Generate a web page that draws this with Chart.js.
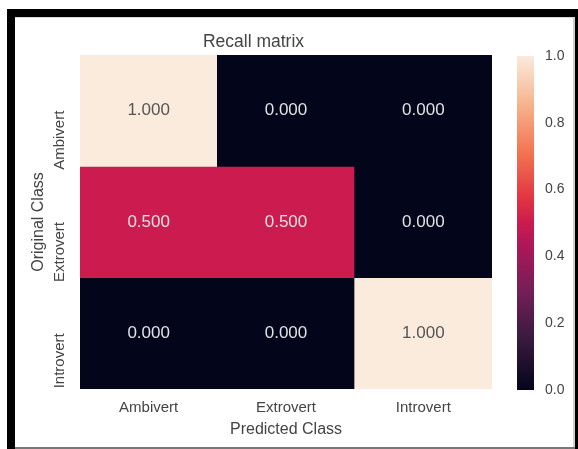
<!DOCTYPE html>
<html>
<head>
<meta charset="utf-8">
<title>Recall matrix</title>
<script src="https://cdn.jsdelivr.net/npm/chart.js@4/dist/chart.umd.min.js"></script>
<style>
    body { margin: 0; background: #fff; }
    #page { position: relative; width: 578px; height: 449px; overflow: hidden; background: #fff; }
    .edge { position: absolute; }
    #heatWrap { position: absolute; left: 0; top: 0; width: 578px; height: 449px; }
    #barWrap { position: absolute; left: 505px; top: 0; width: 73px; height: 449px; }
</style>
</head>
<body>
<div id="page">
    <div class="edge" style="left:7px;top:9px;right:0;height:8px;background:#000"></div>
    <div class="edge" style="left:7px;top:9px;width:8px;bottom:0;background:#000"></div>
    <div class="edge" style="left:15px;top:17px;right:4px;height:1px;background:#d8d8d8"></div>
    <div class="edge" style="left:573px;top:17px;width:2px;bottom:0;background:#d0d0d0"></div>
    <div class="edge" style="left:575px;top:9px;width:3px;bottom:0;background:#000"></div>
    <div class="edge" style="left:15px;top:447px;width:560px;height:2px;background:#777"></div>
    <div id="heatWrap"><canvas id="heatmap" width="578" height="449"></canvas></div>
    <div id="barWrap"><canvas id="colorbar" width="73" height="449"></canvas></div>
</div>

<script>
var classes = ["Ambivert", "Extrovert", "Introvert"];
var recall = [
    [1.0, 0.0, 0.0],
    [0.5, 0.5, 0.0],
    [0.0, 0.0, 1.0]
];
var colorbarTicks = [0.0, 0.2, 0.4, 0.6, 0.8, 1.0];

// seaborn "rocket" palette, sampled
var rocketStops = [
    [0.000, [3, 5, 26]],
    [0.143, [53, 25, 62]],
    [0.286, [112, 31, 87]],
    [0.429, [173, 23, 89]],
    [0.500, [203, 27, 79]],
    [0.571, [225, 51, 66]],
    [0.714, [243, 118, 81]],
    [0.857, [246, 180, 143]],
    [1.000, [250, 235, 221]]
];

var textColor = "#444";

Chart.defaults.font.family = '"Liberation Sans", Arial, sans-serif';

function rocket(v) {
    for (var i = 1; i < rocketStops.length; i++) {
        var a = rocketStops[i - 1], b = rocketStops[i];
        if (v <= b[0]) {
            var t = (v - a[0]) / (b[0] - a[0]);
            var rgb = a[1].map(function (c, k) { return Math.round(c + (b[1][k] - c) * t); });
            return "rgb(" + rgb.join(",") + ")";
        }
    }
    return "rgb(" + rocketStops[rocketStops.length - 1][1].join(",") + ")";
}

// writes the value in the middle of each cell
var cellText = {
    id: "cellText",
    afterDatasetsDraw: function (chart) {
        var ctx = chart.ctx;
        ctx.save();
        ctx.font = '17px "Liberation Sans", Arial, sans-serif';
        ctx.textAlign = "center";
        ctx.textBaseline = "middle";
        chart.data.datasets.forEach(function (ds, r) {
            chart.getDatasetMeta(r).data.forEach(function (bar, c) {
                var v = recall[r][c];
                ctx.fillStyle = v > 0.6 ? "#555" : "#e2e2e2";
                ctx.fillText(v.toFixed(3), bar.x, (bar.y + bar.base) / 2);
            });
        });
        ctx.restore();
    }
};

function initHeatmap() {
    var ctx = document.getElementById("heatmap").getContext("2d");

    // one dataset per row, each cell a floating bar spanning its row
    var datasets = recall.map(function (row, r) {
        return {
            label: classes[r],
            data: row.map(function () { return [r, r + 1]; }),
            backgroundColor: row.map(rocket),
            borderWidth: 0,
            borderSkipped: false,
            grouped: false,
            barPercentage: 1,
            categoryPercentage: 1
        };
    });

    new Chart(ctx, {
        type: "bar",
        data: { labels: classes, datasets: datasets },
        options: {
            responsive: false,
            animation: false,
            events: [],
            layout: { padding: { left: 15, right: 86, top: 0, bottom: 10 } },
            plugins: {
                legend: { display: false },
                tooltip: { enabled: false },
                title: {
                    display: true,
                    text: "Recall matrix",
                    color: textColor,
                    font: { size: 17.5, weight: "normal" },
                    padding: { top: 31.5, bottom: 2.5 }
                }
            },
            scales: {
                x: {
                    offset: true,
                    grid: { display: false, drawTicks: false },
                    border: { display: false },
                    ticks: { color: textColor, font: { size: 15 }, padding: 10 },
                    title: {
                        display: true,
                        text: "Predicted Class",
                        color: textColor,
                        font: { size: 16 },
                        padding: { top: 0, bottom: 0 }
                    },
                    afterFit: function (scale) { scale.height = 50; }
                },
                y: {
                    type: "linear",
                    min: 0,
                    max: classes.length,
                    reverse: true,
                    grid: { display: false, drawTicks: false },
                    border: { display: false },
                    afterBuildTicks: function (scale) {
                        scale.ticks = classes.map(function (c, i) { return { value: i + 0.5 }; });
                    },
                    ticks: {
                        autoSkip: false,
                        minRotation: 90,
                        maxRotation: 90,
                        padding: 20,
                        color: textColor,
                        font: { size: 15 },
                        callback: function (v) { return classes[Math.floor(v)]; }
                    },
                    title: {
                        display: true,
                        text: "Original Class",
                        color: textColor,
                        font: { size: 16 },
                        padding: { top: 14, bottom: 0 }
                    },
                    afterFit: function (scale) { scale.width = 65; }
                }
            }
        },
        plugins: [cellText]
    });
}

function initColorbar() {
    var ctx = document.getElementById("colorbar").getContext("2d");

    new Chart(ctx, {
        type: "bar",
        data: {
            labels: ["recall"],
            datasets: [{
                data: [[colorbarTicks[0], colorbarTicks[colorbarTicks.length - 1]]],
                barThickness: 17,
                borderWidth: 0,
                backgroundColor: function (context) {
                    var area = context.chart.chartArea;
                    if (!area) return null;
                    var g = context.chart.ctx.createLinearGradient(0, area.bottom, 0, area.top);
                    rocketStops.forEach(function (s) {
                        g.addColorStop(s[0], "rgb(" + s[1].join(",") + ")");
                    });
                    return g;
                }
            }]
        },
        options: {
            responsive: false,
            animation: false,
            events: [],
            layout: { padding: { left: 12, right: 0, top: 56, bottom: 59 } },
            plugins: { legend: { display: false }, tooltip: { enabled: false } },
            scales: {
                x: { display: false },
                y: {
                    position: "right",
                    min: colorbarTicks[0],
                    max: colorbarTicks[colorbarTicks.length - 1],
                    grid: { display: false, drawTicks: false },
                    border: { display: false },
                    afterBuildTicks: function (scale) {
                        scale.ticks = colorbarTicks.map(function (v) { return { value: v }; });
                    },
                    ticks: {
                        padding: 11,
                        color: textColor,
                        font: { size: 14 },
                        callback: function (v) { return v.toFixed(1); }
                    },
                    afterFit: function (scale) { scale.width = 44; }
                }
            }
        }
    });
}

initHeatmap();
initColorbar();
</script>
</body>
</html>
